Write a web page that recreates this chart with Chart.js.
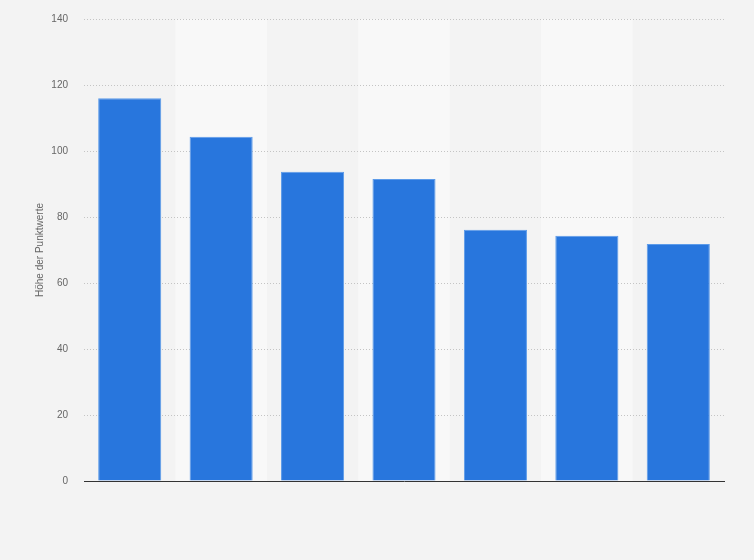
<!DOCTYPE html>
<html>
<head>
<meta charset="utf-8">
<script src="https://cdn.jsdelivr.net/npm/chart.js@4"></script>
<style>
  html, body { margin: 0; padding: 0; background: #f3f3f3; }
  #wrap { width: 754px; height: 560px; }
</style>
</head>
<body>
<div id="wrap"><canvas id="chart"></canvas></div>
<script>
const categories = ['1', '2', '3', '4', '5', '6', '7'];
const values = [116, 104.3, 93.7, 91.5, 76.1, 74.3, 71.8];
const yTicks = [0, 20, 40, 60, 80, 100, 120, 140];

// alternating column shading behind the bars
const bands = {
  id: 'bands',
  beforeDraw(chart) {
    const { ctx, chartArea, scales } = chart;
    ctx.save();
    ctx.fillStyle = '#f3f3f3';
    ctx.fillRect(0, 0, chart.width, chart.height);
    const step = chartArea.width / categories.length;
    ctx.fillStyle = '#f8f8f8';
    categories.forEach((c, i) => {
      if (i % 2 === 1) {
        const cx = scales.x.getPixelForValue(i);
        ctx.fillRect(cx - step / 2, chartArea.top, step, chartArea.height);
      }
    });
    ctx.restore();
  }
};

new Chart(document.getElementById('chart'), {
  type: 'bar',
  data: {
    labels: categories,
    datasets: [{
      data: values,
      backgroundColor: '#2876dd',
      borderColor: '#5c9be9',
      borderWidth: 1,
      barPercentage: 0.69,
      categoryPercentage: 1
    }]
  },
  options: {
    responsive: true,
    maintainAspectRatio: false,
    animation: false,
    layout: { padding: { top: 19, right: 30, bottom: 79, left: 0 } },
    plugins: { legend: { display: false }, tooltip: { enabled: false } },
    scales: {
      x: {
        grid: { display: false },
        border: { display: true, color: '#333', width: 1 },
        ticks: { display: false },
        afterFit: axis => { axis.height = 0; }
      },
      y: {
        min: 0,
        max: 140,
        afterBuildTicks: axis => { axis.ticks = yTicks.map(v => ({ value: v })); },
        afterFit: axis => {
          axis.width = 84;
          axis.paddingTop = 0;
          axis.paddingBottom = 0;
        },
        border: { display: false, dash: [1, 2] },
        grid: {
          drawTicks: false,
          color: ctx => ctx.tick && ctx.tick.value === 0 ? 'rgba(0,0,0,0)' : '#c4c4c4'
        },
        ticks: {
          padding: 16,
          color: '#666',
          font: { family: 'Liberation Sans, Arial, sans-serif', size: 10 }
        },
        title: {
          display: true,
          text: 'Höhe der Punktwerte',
          color: '#666',
          font: { family: 'Liberation Sans, Arial, sans-serif', size: 10 },
          padding: { top: 34, bottom: 0 }
        }
      }
    }
  },
  plugins: [bands]
});
</script>
</body>
</html>
